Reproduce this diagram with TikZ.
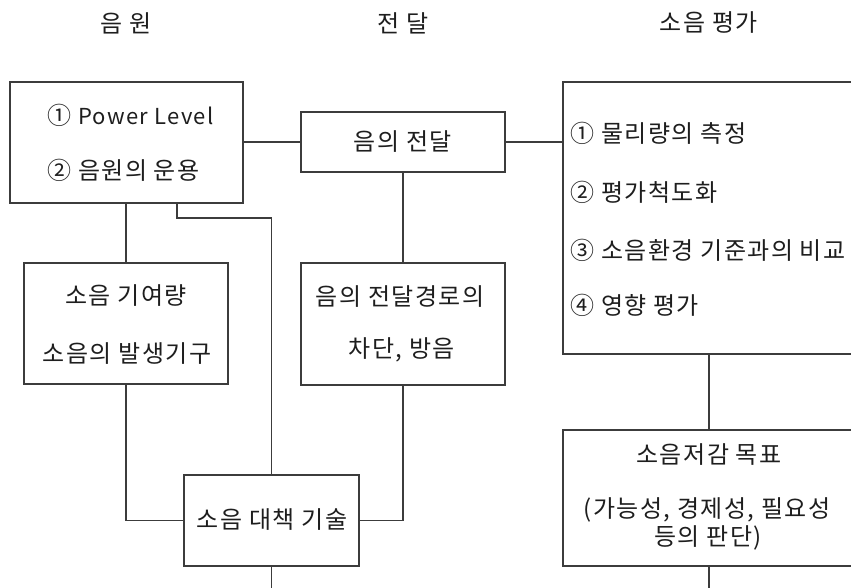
\documentclass[tikz,border=0pt]{standalone}
\usepackage{fontspec}
\newfontfamily\kr{Noto Sans CJK KR}[LetterSpace=6]
\definecolor{ln}{RGB}{60,60,60}
\definecolor{tx}{RGB}{30,30,30}
\tikzset{
  box/.style={draw=ln, line width=0.8pt, rectangle, inner sep=0pt},
  lbl/.style={inner sep=0pt, text=tx, font=\kr\fontsize{18pt}{21pt}\selectfont},
  conn/.style={draw=ln, line width=0.8pt},
}
\begin{document}
\begin{tikzpicture}[x=0.75pt, y=-0.75pt]
\useasboundingbox (0,0) rectangle (851,588);
\clip (0,0) rectangle (851,588);
\fill[white] (0,0) rectangle (851,588);
% headers
\node[lbl] (h1) at (126,23) {음 원};
\node[lbl] (h2) at (403,23) {전 달};
\node[lbl] (h3) at (709,23) {소음 평가};
% boxes
\node[box, minimum width=174.75pt, minimum height=90.75pt] (A) at (126.5,142.5) {};
\node[box, minimum width=153pt, minimum height=45pt] (B) at (403,142) {};
\node[box, minimum width=230.25pt, minimum height=204pt] (C) at (716.5,218) {};
\node[box, minimum width=230.25pt, minimum height=102pt] (D) at (716.5,498) {};
\node[box, minimum width=153pt, minimum height=90.75pt] (E) at (126,323.5) {};
\node[box, minimum width=153pt, minimum height=91.5pt] (F) at (403,324) {};
\node[box, minimum width=131.25pt, minimum height=68.25pt] (G) at (271.5,520.5) {};
% texts
\node[lbl, anchor=west] (a1) at (47,115) {① {\fontsize{16.5pt}{19pt}\selectfont Power Level}};
\node[lbl, anchor=west] (a2) at (47,170) {② 음원의 운용};
\node[lbl] (b1) at (403,142) {음의 전달};
\node[lbl, anchor=west] (c1) at (570,133) {① 물리량의 측정};
\node[lbl, anchor=west] (c2) at (570,192) {② 평가척도화};
\node[lbl, anchor=west] (c3) at (570,250) {③ 소음환경 기준과의 비교};
\node[lbl, anchor=west] (c4) at (570,305) {④ 영향 평가};
\node[lbl] (d1) at (709,455) {소음저감 목표};
\node[lbl] (d2) at (707,510) {(가능성, 경제성, 필요성};
\node[lbl] (d3) at (708,538) {등의 판단)};
\node[lbl] (e1) at (126,296) {소음 기여량};
\node[lbl] (e2) at (127,354) {소음의 발생기구};
\node[lbl] (f1) at (400,297) {음의 전달경로의};
\node[lbl] (f2) at (402,350) {차단, 방음};
\node[lbl] (g1) at (272,520) {소음 대책 기술};
% helper coordinates
\coordinate (cx) at (709,0);
\coordinate (ax) at (177,0);
\coordinate (kk) at (271.5,218);
\coordinate (dend) at (709,590);
\coordinate (gend) at (271.5,590);
% connectors
\draw[conn] (A.east |- B.west) -- (B.west);
\draw[conn] (B.east) -- (C.west |- B.east);
\draw[conn] (A.south -| E.north) -- (E.north);
\draw[conn] (B.south) -- (F.north);
\draw[conn] (C.south -| cx) -- (D.north -| cx);
\draw[conn] (D.south -| cx) -- (dend);
\draw[conn] (E.south) |- (G.west);
\draw[conn] (F.south) |- (G.east);
\draw[conn] (A.south -| ax) |- (kk) -- (G.north);
\draw[conn] (G.south) -- (gend);
\end{tikzpicture}
\end{document}
